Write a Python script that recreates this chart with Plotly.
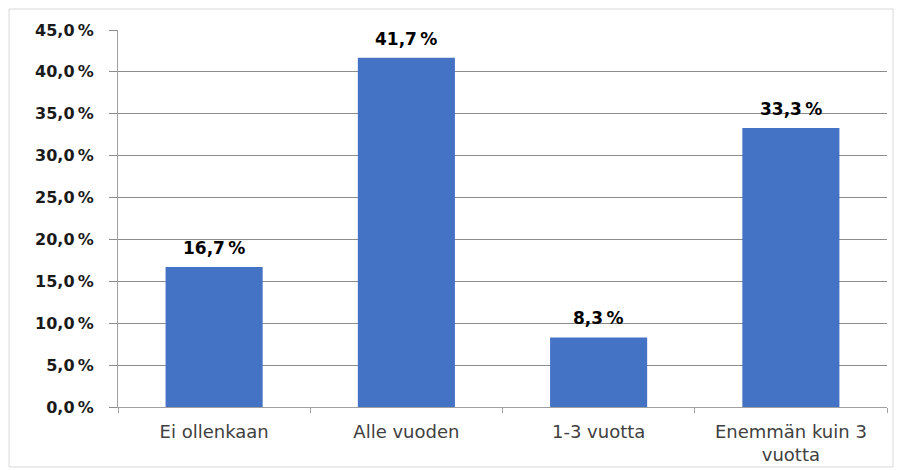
import plotly.graph_objects as go

categories = ["Ei ollenkaan", "Alle vuoden", "1-3 vuotta", "Enemmän kuin 3<br>vuotta"]
values = [16.7, 41.7, 8.3, 33.3]
tick_vals = [0, 5, 10, 15, 20, 25, 30, 35, 40, 45]

def fmt(v):
    return f"{v:.1f}".replace(".", ",") + "\u2009%"

tick_text = [fmt(v) for v in tick_vals]
labels = [fmt(v) for v in values]

fig = go.Figure(go.Bar(
    x=categories, y=values,
    marker=dict(color="#4472C4", line=dict(width=0)),
    hoverinfo="skip",
))

for c, v, t in zip(categories, values, labels):
    fig.add_annotation(
        x=c, y=v, text=t, showarrow=False, yanchor="bottom", yshift=7,
        font=dict(family="DejaVu Sans", size=17, color="#000000", weight="bold"),
    )

L, R, T, B = 118, 13, 30, 63
W, H = 900, 470
pw = W - L - R
ph = H - T - B

fig.update_layout(
    width=W, height=H,
    margin=dict(l=L, r=R, t=T, b=B, autoexpand=False),
    paper_bgcolor="white", plot_bgcolor="white",
    bargap=0.495,
    showlegend=False,
    xaxis=dict(
        type="category", tickson="boundaries", ticks="outside", ticklen=5,
        tickcolor="#A0A0A0", showline=True, linecolor="#A0A0A0", linewidth=1,
        showgrid=False, ticklabelstandoff=8, automargin=False,
        tickfont=dict(family="DejaVu Sans", size=18, color="#404040"),
    ),
    yaxis=dict(
        range=[0, 45], tickvals=tick_vals, ticktext=tick_text,
        ticks="outside", ticklen=8, tickcolor="#8C8C8C",
        showgrid=True, gridcolor="#8C8C8C", gridwidth=1,
        showline=True, linecolor="#A0A0A0", linewidth=1,
        zeroline=False, ticklabelstandoff=12, automargin=False,
        tickfont=dict(family="DejaVu Sans", size=16, color="#1A1A1A", weight="bold"),
    ),
    shapes=[dict(
        type="rect", xref="paper", yref="paper",
        x0=(9 - L) / pw, x1=(893 - L) / pw,
        y0=(H - B - 467) / ph, y1=(H - B - 9) / ph,
        line=dict(color="#D9D9D9", width=1), fillcolor="rgba(0,0,0,0)", layer="below",
    )],
)

fig.write_html("out.html")
